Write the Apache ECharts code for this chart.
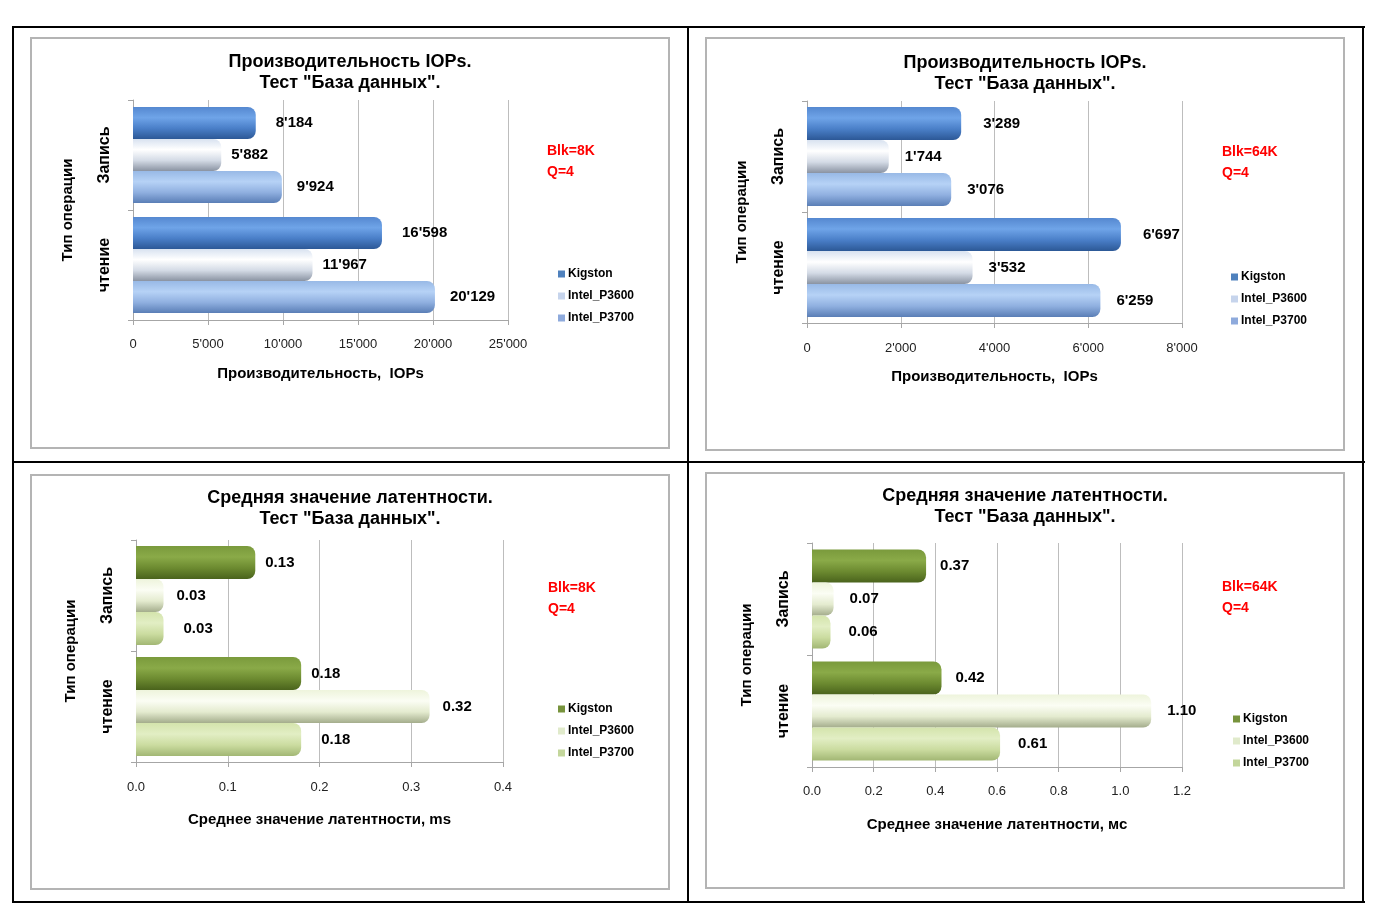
<!DOCTYPE html>
<html>
<head>
<meta charset="utf-8">
<title>IOPs / latency</title>
<script src="https://cdn.jsdelivr.net/npm/echarts@6/dist/echarts.min.js"></script>
<style>
    body { margin: 0; background: #fff; }
    .line { position: absolute; background: #000; }
    .box { position: absolute; border: 2px solid #b4b4b4; box-sizing: border-box; background: #fff; }
    .chart { position: absolute; left: 0; top: 0; }
</style>
</head>
<body>
<div class="line" style="left:12px; top:26px; width:1353px; height:2px;"></div>
<div class="line" style="left:12px; top:901px; width:1353px; height:2px;"></div>
<div class="line" style="left:12px; top:26px; width:2px; height:877px;"></div>
<div class="line" style="left:1362px; top:26px; width:2px; height:877px;"></div>
<div class="line" style="left:687px; top:26px; width:2px; height:877px;"></div>
<div class="line" style="left:12px; top:461px; width:1353px; height:2px;"></div>

<div class="box" style="left:30px; top:37px; width:640px; height:412px;"><div id="c1" class="chart" style="width:636px;height:408px;"></div></div>
<div class="box" style="left:705px; top:37px; width:640px; height:414px;"><div id="c2" class="chart" style="width:636px;height:410px;"></div></div>
<div class="box" style="left:30px; top:474px; width:640px; height:416px;"><div id="c3" class="chart" style="width:636px;height:412px;"></div></div>
<div class="box" style="left:705px; top:472px; width:640px; height:417px;"><div id="c4" class="chart" style="width:636px;height:413px;"></div></div>

<script type="text/javascript">
    var categories = ['Запись', 'чтение'];
    var seriesNames = ['Kigston', 'Intel_P3600', 'Intel_P3700'];

    // IOPs, Blk=8K
    var iops8kKigston = [8184, 16598];
    var iops8kP3600 = [5882, 11967];
    var iops8kP3700 = [9924, 20129];
    // IOPs, Blk=64K
    var iops64kKigston = [3289, 6697];
    var iops64kP3600 = [1744, 3532];
    var iops64kP3700 = [3076, 6259];
    // latency, Blk=8K
    var lat8kKigston = [0.13, 0.18];
    var lat8kP3600 = [0.03, 0.32];
    var lat8kP3700 = [0.03, 0.18];
    // latency, Blk=64K
    var lat64kKigston = [0.37, 0.42];
    var lat64kP3600 = [0.07, 1.10];
    var lat64kP3700 = [0.06, 0.61];

    var FONT = "'Liberation Sans', Arial, sans-serif";

    function grad(stops) {
        return new echarts.graphic.LinearGradient(0, 0, 0, 1, stops.map(function (c, i) {
            return {offset: i / (stops.length - 1), color: c};
        }));
    }

    var blue = {
        fills: [
            grad(['#5588d0', '#6fa4e8', '#4a7fc8', '#2c5896']),
            grad(['#d8e2f0', '#ffffff', '#d4dbe6', '#8a93a2']),
            grad(['#98b9e6', '#b6d2f6', '#90b0e0', '#5a7eb6'])
        ],
        legend: ['#4f81bd', '#c6d4ec', '#8eaadc']
    };
    var green = {
        fills: [
            grad(['#7a9a3c', '#8aaa48', '#6c8a30', '#4a631c']),
            grad(['#eef4dc', '#fbfdf4', '#e4ebcf', '#a4ad8c']),
            grad(['#d4e4ac', '#e2eec4', '#cbdca0', '#a2b774'])
        ],
        legend: ['#77933c', '#e0eacb', '#c3d69b']
    };

    function fmtIops(v) {
        return String(Math.round(v)).replace(/\B(?=(\d{3})+(?!\d))/g, "'");
    }
    function fmt1(v) { return v.toFixed(1); }
    function fmt2(v) { return v.toFixed(2); }

    function buildChart(id, cfg) {
        var chart = echarts.init(document.getElementById(id));
        var series = cfg.data.map(function (vals, i) {
            return {
                name: seriesNames[i],
                type: 'bar',
                data: vals,
                barWidth: cfg.barWidth,
                barGap: '0%',
                itemStyle: {color: cfg.pal.fills[i], borderRadius: [0, 8, 8, 0]},
                label: {
                    show: true, position: 'right', distance: cfg.dists[i],
                    fontFamily: FONT, fontSize: 15, fontWeight: 'bold', color: '#000',
                    formatter: function (p) { return cfg.valFmt(p.value); }
                }
            };
        });
        var option = {
            animation: false,
            textStyle: {fontFamily: FONT},
            title: {
                text: cfg.title,
                left: 'center',
                top: cfg.titleTop,
                padding: 0,
                textStyle: {fontFamily: FONT, fontSize: 18, fontWeight: 'bold', lineHeight: 21, color: '#000'}
            },
            legend: {
                orient: 'vertical',
                left: cfg.legend[0], top: cfg.legend[1],
                icon: 'rect', itemWidth: 7, itemHeight: 7, itemGap: 10,
                textStyle: {fontFamily: FONT, fontSize: 12, fontWeight: 'bold', color: '#000', padding: [0, 0, 0, -2]},
                data: seriesNames.map(function (n, i) {
                    return {name: n, itemStyle: {color: cfg.pal.legend[i]}};
                })
            },
            grid: {left: cfg.grid[0], top: cfg.grid[1], width: cfg.grid[2], height: cfg.grid[3]},
            xAxis: {
                type: 'value', min: 0, max: cfg.max, interval: cfg.step,
                axisLine: {show: true, lineStyle: {color: '#a6a6a6'}},
                axisTick: {show: true, length: 5, lineStyle: {color: '#a6a6a6'}},
                splitLine: {show: true, lineStyle: {color: '#bdbdbd'}},
                axisLabel: {margin: cfg.labelMargin, fontSize: 13, color: '#222', formatter: cfg.axisFmt},
                name: cfg.xName, nameLocation: 'middle', nameGap: cfg.nameGap,
                nameTextStyle: {fontSize: 15, fontWeight: 'bold', color: '#000'}
            },
            yAxis: {
                type: 'category', data: categories, inverse: true,
                axisLine: {show: true, lineStyle: {color: '#a6a6a6'}},
                axisTick: {show: true, length: 5, lineStyle: {color: '#a6a6a6'}},
                axisLabel: {rotate: 90, margin: 20, fontSize: 16, fontWeight: 'bold', color: '#000'},
                name: 'Тип операции', nameLocation: 'middle', nameRotate: 90, nameGap: 58,
                nameTextStyle: {fontSize: 15, fontWeight: 'bold', color: '#000'}
            },
            graphic: [{
                type: 'text', x: cfg.blk[0], y: cfg.blk[1],
                style: {
                    text: cfg.blkText + '\nQ=4', fill: '#ff0000',
                    font: 'bold 14px ' + FONT, lineHeight: 21, align: 'left', verticalAlign: 'top'
                }
            }],
            series: series
        };
        chart.setOption(option);
        return chart;
    }

    var iopsTitle = 'Производительность IOPs.\nТест "База данных".';
    var latTitle = 'Средняя значение латентности.\nТест "База данных".';

    buildChart('c1', {
        title: iopsTitle, titleTop: 13,
        data: [iops8kKigston, iops8kP3600, iops8kP3700], pal: blue,
        max: 25000, step: 5000, valFmt: fmtIops, axisFmt: fmtIops,
        xName: 'Производительность,  IOPs', labelMargin: 18, nameGap: 46,
        grid: [101, 61, 375, 220], barWidth: 32, dists: [20, 10, 15],
        legend: [521, 224], blk: [515, 102], blkText: 'Blk=8K'
    });
    buildChart('c2', {
        title: iopsTitle, titleTop: 14,
        data: [iops64kKigston, iops64kP3600, iops64kP3700], pal: blue,
        max: 8000, step: 2000, valFmt: fmtIops, axisFmt: fmtIops,
        xName: 'Производительность,  IOPs', labelMargin: 19, nameGap: 46,
        grid: [100, 62, 375, 222], barWidth: 33, dists: [22, 16, 16],
        legend: [519, 227], blk: [515, 103], blkText: 'Blk=64K'
    });
    buildChart('c3', {
        title: latTitle, titleTop: 12,
        data: [lat8kKigston, lat8kP3600, lat8kP3700], pal: green,
        max: 0.4, step: 0.1, valFmt: fmt2, axisFmt: fmt1,
        xName: 'Среднее значение латентности, ms', labelMargin: 19, nameGap: 50,
        grid: [104, 64, 367, 222], barWidth: 33, dists: [10, 13, 20],
        legend: [521, 222], blk: [516, 102], blkText: 'Blk=8K'
    });
    buildChart('c4', {
        title: latTitle, titleTop: 12,
        data: [lat64kKigston, lat64kP3600, lat64kP3700], pal: green,
        max: 1.2, step: 0.2, valFmt: fmt2, axisFmt: fmt1,
        xName: 'Среднее значение латентности, мс', labelMargin: 18, nameGap: 50,
        grid: [105, 69, 370, 224], barWidth: 33, dists: [14, 16, 18],
        legend: [521, 234], blk: [515, 103], blkText: 'Blk=64K'
    });
</script>
</body>
</html>
